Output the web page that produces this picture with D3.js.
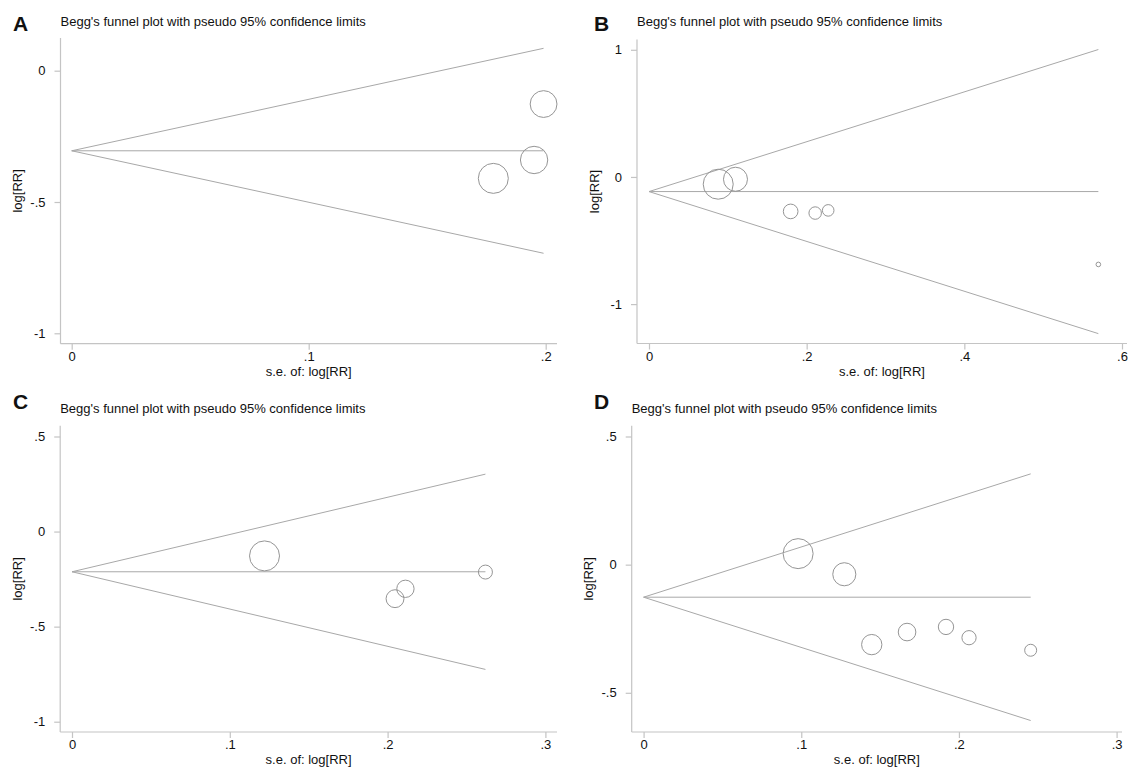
<!DOCTYPE html>
<html><head><meta charset="utf-8">
<script src="https://cdn.jsdelivr.net/npm/d3@7"></script>
<style>
body{margin:0;background:#fff}
svg{display:block}
text{font-family:"Liberation Sans",Arial,Helvetica,sans-serif;fill:#111}
</style>
</head><body>
<svg id="chart" width="1130" height="771"></svg>
<script>
// ---------------- data ----------------
const panelLetters = ["A", "B", "C", "D"];
const titleText = "Begg's funnel plot with pseudo 95% confidence limits";
const xAxisTitle = "s.e. of: log[RR]";
const yAxisTitle = "log[RR]";

// Panel A
const seA = [0.1991, 0.1951, 0.1779];
const logrrA = [-0.127, -0.340, -0.410];
const pooledA = -0.305;
const xTicksA = [0, 0.1, 0.2];
const xTickLabelsA = ["0", ".1", ".2"];
const yTicksA = [0, -0.5, -1];
const yTickLabelsA = ["0", "-.5", "-1"];

// Panel B
const seB = [0.0878, 0.1097, 0.1797, 0.2108, 0.2273, 0.570];
const logrrB = [-0.057, -0.018, -0.271, -0.284, -0.263, -0.688];
const pooledB = -0.115;
const xTicksB = [0, 0.2, 0.4, 0.6];
const xTickLabelsB = ["0", ".2", ".4", ".6"];
const yTicksB = [1, 0, -1];
const yTickLabelsB = ["1", "0", "-1"];

// Panel C
const seC = [0.122, 0.262, 0.2113, 0.2047];
const logrrC = [-0.128, -0.213, -0.301, -0.353];
const pooledC = -0.2115;
const xTicksC = [0, 0.1, 0.2, 0.3];
const xTickLabelsC = ["0", ".1", ".2", ".3"];
const yTicksC = [0.5, 0, -0.5, -1];
const yTickLabelsC = [".5", "0", "-.5", "-1"];

// Panel D
const seD = [0.098, 0.1273, 0.1447, 0.1671, 0.1918, 0.2064, 0.2455];
const logrrD = [0.043, -0.0375, -0.312, -0.263, -0.243, -0.285, -0.334];
const pooledD = -0.127;
const xTicksD = [0, 0.1, 0.2, 0.3];
const xTickLabelsD = ["0", ".1", ".2", ".3"];
const yTicksD = [0.5, 0, -0.5];
const yTickLabelsD = [".5", "0", "-.5"];

// ---------------- layout (pixels) ----------------
const layout = [
  {xDom:[0,0.2], xRng:[71.7,545.7], xLine:[60.5,557], yDom:[0,-1], yRng:[70.7,333.3], yLine:[38,343.7],
   letterX:13, letterY:30.5, titleY:26},
  {xDom:[0,0.6], xRng:[649,1122], xLine:[637,1127], yDom:[1,-1], yRng:[49.8,304.1], yLine:[39.5,343.5],
   letterX:594, letterY:30.5, titleY:26},
  {xDom:[0,0.3], xRng:[72,545.4], xLine:[60.2,557], yDom:[0.5,-1], yRng:[436.5,721.7], yLine:[425.7,732],
   letterX:13, letterY:408.5, titleY:413.3},
  {xDom:[0,0.3], xRng:[643.6,1116.6], xLine:[631.7,1122], yDom:[0.5,-0.5], yRng:[436.5,692.8], yLine:[425.7,732],
   letterX:594, letterY:408.5, titleY:413.3}
];

const panels = [
  {se:seA, y:logrrA, pooled:pooledA, xt:xTicksA, xl:xTickLabelsA, yt:yTicksA, yl:yTickLabelsA},
  {se:seB, y:logrrB, pooled:pooledB, xt:xTicksB, xl:xTickLabelsB, yt:yTicksB, yl:yTickLabelsB},
  {se:seC, y:logrrC, pooled:pooledC, xt:xTicksC, xl:xTickLabelsC, yt:yTicksC, yl:yTickLabelsC},
  {se:seD, y:logrrD, pooled:pooledD, xt:xTicksD, xl:xTickLabelsD, yt:yTicksD, yl:yTickLabelsD}
];

const axisColor = "#c4c4c4";
const funnelColor = "#a8a8a8";
const circleColor = "#959595";
const maxRadius = 15;

const svg = d3.select("#chart");

panels.forEach((p, i) => {
  const L = layout[i];
  const g = svg.append("g");
  const x = d3.scaleLinear().domain(L.xDom).range(L.xRng);
  const y = d3.scaleLinear().domain(L.yDom).range(L.yRng);
  const axX = L.xLine[0];
  const axY = L.yLine[1];

  // panel letter and title
  g.append("text").attr("x", L.letterX).attr("y", L.letterY)
    .attr("font-size", 21).attr("font-weight", "bold").text(panelLetters[i]);
  g.append("text").attr("x", axX).attr("y", L.titleY)
    .attr("font-size", 13).text(titleText);

  // axis lines
  g.append("line").attr("x1", axX).attr("x2", axX).attr("y1", L.yLine[0]).attr("y2", axY)
    .attr("stroke", axisColor).attr("stroke-width", 1.2);
  g.append("line").attr("x1", L.xLine[0]).attr("x2", L.xLine[1]).attr("y1", axY).attr("y2", axY)
    .attr("stroke", axisColor).attr("stroke-width", 1.2);

  // x axis ticks
  const xa = g.append("g").attr("transform", `translate(0,${axY})`)
    .call(d3.axisBottom(x).tickValues(p.xt).tickSize(6).tickSizeOuter(0).tickPadding(2)
      .tickFormat((d, k) => p.xl[k]));
  xa.select(".domain").remove();
  xa.selectAll(".tick line").attr("stroke", axisColor).attr("stroke-width", 1.2);
  xa.selectAll(".tick text").attr("font-size", 13).attr("fill", "#111")
    .attr("font-family", '"Liberation Sans",Arial,sans-serif');

  // y axis ticks
  const ya = g.append("g").attr("transform", `translate(${axX},0)`)
    .call(d3.axisLeft(y).tickValues(p.yt).tickSize(6).tickSizeOuter(0).tickPadding(9)
      .tickFormat((d, k) => p.yl[k]));
  ya.select(".domain").remove();
  ya.selectAll(".tick line").attr("stroke", axisColor).attr("stroke-width", 1.2);
  ya.selectAll(".tick text").attr("font-size", 13).attr("fill", "#111")
    .attr("font-family", '"Liberation Sans",Arial,sans-serif');

  // axis titles
  g.append("text").attr("text-anchor", "middle")
    .attr("x", (L.xLine[0] + L.xLine[1]) / 2).attr("y", axY + 32)
    .attr("font-size", 13).text(xAxisTitle);
  const yMid = (L.yLine[0] + L.yLine[1]) / 2;
  g.append("text").attr("text-anchor", "middle")
    .attr("transform", `translate(${axX - 38.5},${yMid}) rotate(-90)`)
    .attr("font-size", 13).text(yAxisTitle);

  // funnel: pseudo 95% limits
  const seMax = d3.max(p.se);
  const line = d3.line().x(d => x(d[0])).y(d => y(d[1]));
  const funnels = [
    [[0, p.pooled], [seMax, p.pooled + 1.96 * seMax]],
    [[0, p.pooled], [seMax, p.pooled - 1.96 * seMax]],
    [[0, p.pooled], [seMax, p.pooled]]
  ];
  g.selectAll("path.funnel").data(funnels).join("path").attr("class", "funnel")
    .attr("d", line).attr("fill", "none").attr("stroke", funnelColor).attr("stroke-width", 1);

  // study markers, area proportional to weight 1/se^2
  const pts = p.se.map((s, k) => ({se: s, v: p.y[k], w: 1 / (s * s)}));
  const r = d3.scaleSqrt().domain([0, d3.max(pts, d => d.w)]).range([0, maxRadius]);
  g.selectAll("circle").data(pts).join("circle")
    .attr("cx", d => x(d.se)).attr("cy", d => y(d.v)).attr("r", d => r(d.w))
    .attr("fill", "none").attr("stroke", circleColor).attr("stroke-width", 1);
});
</script>
</body></html>
